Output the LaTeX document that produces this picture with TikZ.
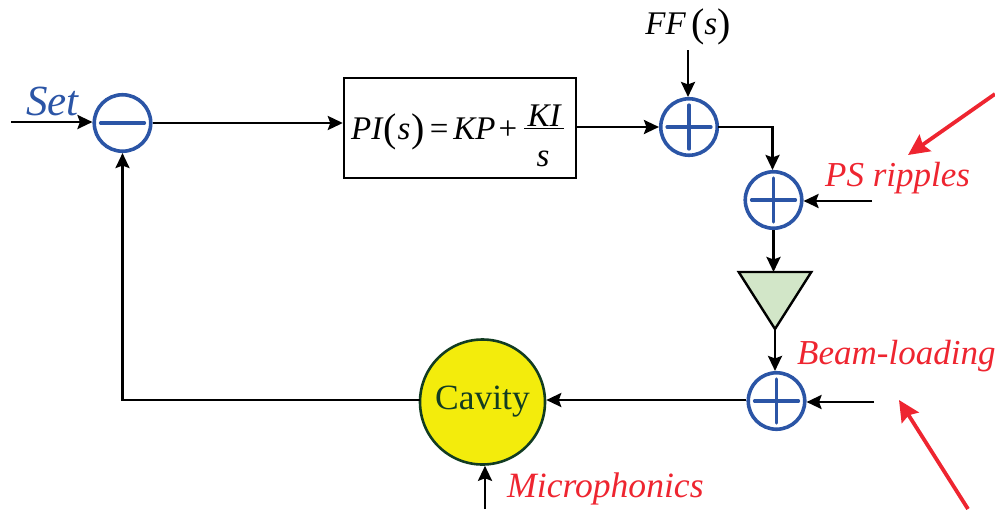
\documentclass[tikz,border=0pt]{standalone}
\usepackage{fontspec}
\setmainfont{Liberation Serif}
\usetikzlibrary{arrows.meta,calc,shapes.geometric}
\definecolor{sumblue}{HTML}{2B55A6}
\definecolor{noisered}{HTML}{EE2530}
\definecolor{cavyellow}{HTML}{F3EC0C}
\definecolor{ampgreen}{HTML}{D2E6C8}
\definecolor{cavdark}{HTML}{123C22}
\newcommand{\fsz}[1]{\fontsize{#1}{#1}\selectfont}
\newcommand{\bigparen}[1]{\raisebox{-2.5pt}{\fsz{40}\upshape #1}}
\tikzset{
  x=1pt,y=-1pt,
  tip/.style={-{Stealth[length=15pt,width=14pt,inset=2.5pt]}},
  conn/.style={draw=black,line width=2.6pt,tip},
  plain/.style={draw=black,line width=2.6pt,line cap=rect},
  noise/.style={draw=noisered,line width=3.8pt,-{Stealth[length=21pt,width=20pt,inset=3pt]}},
  sumnode/.style={circle,draw=sumblue,line width=3.6pt,minimum size=56.5pt,inner sep=0pt,fill=white},
  sign/.style={draw=sumblue,line width=3.2pt,line cap=round},
  redlabel/.style={text=noisered,font=\fsz{35}\itshape,inner sep=0pt,anchor=base west},
  mathlabel/.style={text=black,font=\fsz{33},inner sep=0pt},
}
\begin{document}
\begin{tikzpicture}
\useasboundingbox (0,0) rectangle (995,509);
% nodes
\node[sumnode] (minus) at (122.5,123) {};
\node[sumnode] (s1) at (689,127) {};
\node[sumnode] (s2) at (773.5,200) {};
\node[sumnode] (s3) at (776.5,401) {};
\node[draw=black,line width=2.4pt,minimum width=232pt,minimum height=100pt,inner sep=0pt] (pi) at (460,128) {};
\node[mathlabel,anchor=base west] (pitext) at (351,139) {\itshape PI\kern1pt\bigparen{(}\kern1pt\itshape s\kern1pt\bigparen{)}\kern5pt\upshape=\kern5pt\itshape KP\kern3pt\upshape+};
\node[mathlabel,anchor=base] (ki) at (544,126) {\itshape KI};
\node[mathlabel,anchor=base] (den) at (543,166) {\itshape s};
\coordinate (rulel) at (524,128.5);
\coordinate (ruler) at (564,128.5);
\node[mathlabel,anchor=base] (ff) at (688,34) {\itshape FF\,\bigparen{(}\itshape s\bigparen{)}};
\node[draw=black,line width=2.4pt,fill=ampgreen,isosceles triangle,isosceles triangle apex angle=65,shape border rotate=-90,minimum height=57pt,inner sep=0pt,outer sep=0pt,anchor=apex] (amp) at (775,329) {};
\node[circle,draw=cavdark,fill=cavyellow,line width=2.6pt,minimum size=125pt,inner sep=0pt,text=cavdark,font=\fsz{35.5}] (cav) at (482.5,402) {\raisebox{-3pt}{Cavity}};
\node[text=sumblue,font=\fsz{43}\itshape,inner sep=0pt,anchor=base west] (set) at (26,115) {Set};
\node[redlabel] (ps) at (825,186) {PS ripples};
\node[redlabel] (beam) at (797,364) {Beam-loading};
\node[redlabel,font=\fsz{35.6}\itshape] (micro) at (507,497) {Microphonics};
% free ends
\coordinate (setin) at (11,122);
\coordinate (ffin) at (688,50);
\coordinate (psin) at (872,201);
\coordinate (beamin) at (874,402);
\coordinate (microin) at (485,509);
\coordinate (corner1) at (772.5,127);
\coordinate (corner2) at (122.5,400);
\coordinate (r1a) at (995,94);
\coordinate (r1b) at (908,155);
\coordinate (r2a) at (968,509);
\coordinate (r2b) at (899,400);
% signs
\draw[sign] ($(minus)+(-22,0)$) -- ($(minus)+(22,0)$);
\foreach \n in {s1,s2,s3}{
  \draw[sign] ($(\n)+(-22,0)$) -- ($(\n)+(22,0)$);
  \draw[sign] ($(\n)+(0,-22)$) -- ($(\n)+(0,22)$);
}
% fraction rule
\draw[black,line width=1.5pt] (rulel) -- (ruler);
% connectors
\draw[conn] (setin) -- (minus.west |- setin);
\draw[conn] (minus.east) -- (minus.east -| pi.west);
\draw[conn] (pi.east |- s1.west) -- (s1.west);
\draw[conn] (ffin) -- (ffin |- s1.north);
\draw[plain] (s1.east) -- (corner1);
\draw[conn] (corner1) -- (corner1 |- s2.north);
\draw[conn] (psin) -- (s2.east |- psin);
\draw[conn] (s2.south) -- (s2.south |- amp.left corner);
\draw[conn] (amp.apex) -- (amp.apex |- s3.north);
\draw[conn] (beamin) -- (s3.east |- beamin);
\draw[conn] (s3.west |- corner2) -- (cav.east |- corner2);
\draw[plain] (cav.west |- corner2) -- (corner2);
\draw[conn] (corner2) -- (corner2 |- minus.south);
\draw[conn] (microin) -- (microin |- cav.south);
\draw[noise] (r1a) -- (r1b);
\draw[noise] (r2a) -- (r2b);
\end{tikzpicture}
\end{document}
